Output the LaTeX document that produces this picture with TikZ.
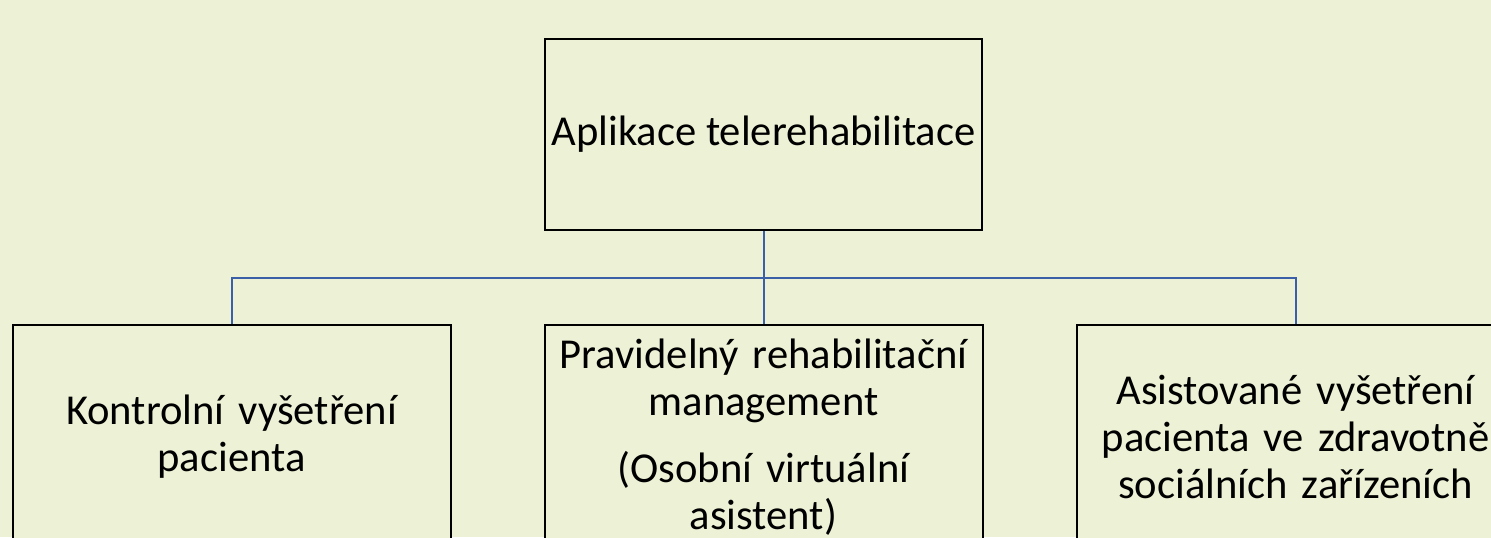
\documentclass[tikz,border=0pt]{standalone}
\usepackage{fontspec}
\setmainfont{Carlito}
\usetikzlibrary{positioning}
\definecolor{bgcol}{HTML}{EDF1D5}
\definecolor{linecol}{HTML}{3C60A8}
\begin{document}
\begin{tikzpicture}[node distance={46pt}, main/.style = {draw=black, line width=1pt, fill=bgcol, align=center, inner sep=2pt, font=\fontsize{21.3}{23.5}\selectfont}, top/.style = {main, minimum width=218.5pt, minimum height=95.5pt}, sub/.style = {main, minimum width=219pt, minimum height=112pt, text width=212pt}, link/.style = {draw=linecol, line width=1pt}]
    \useasboundingbox (0,0) rectangle (745.5pt,-268.5pt);
    \fill[bgcol] (0,0) rectangle (745.5pt,-268.5pt);
    \node[top] (1) at (381.75pt,-67.25pt) {Aplikace telerehabilitace};
    \node[sub] (3) [below=46.5pt of 1] {Pravidelný rehabilitační\\management\\[10pt](Osobní virtuální\\asistent)};
    \node[sub] (2) [left=of 3] {Kontrolní vyšetření\\pacienta};
    \node[sub] (4) [right=of 3] {Asistované vyšetření\\pacienta ve zdravotně\\sociálních zařízeních};
    \coordinate (h) at ([yshift=-23.25pt]1.south);
    \draw[link] (1.south) -- (h);
    \draw[link] (h) -| (2.north);
    \draw[link] (h) -- (3.north);
    \draw[link] (h) -| (4.north);
\end{tikzpicture}
\end{document}
